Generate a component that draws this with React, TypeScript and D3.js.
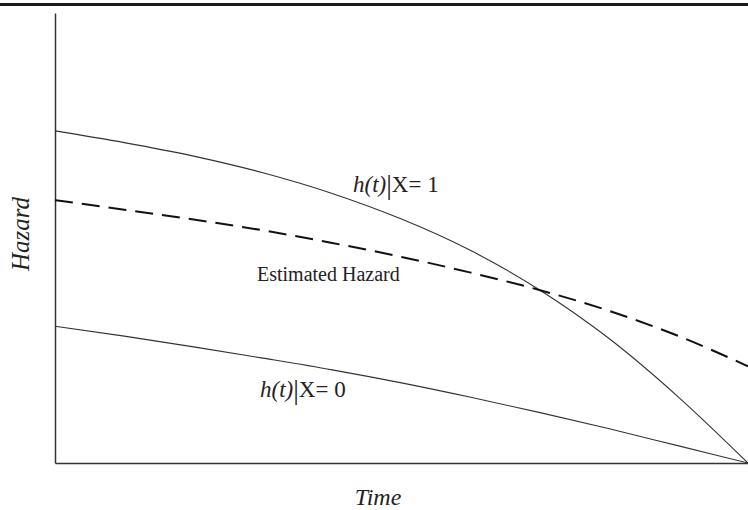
import * as d3 from 'd3'
import { useEffect, useRef } from 'react'

const times = [0, 1, 2, 3, 4, 5, 6, 7, 8, 9, 10]
const hazardX1 = [7.38, 7.12, 6.82, 6.45, 5.99, 5.42, 4.72, 3.84, 2.76, 1.46, 0]
const hazardX0 = [3.04, 2.82, 2.58, 2.33, 2.07, 1.78, 1.46, 1.12, 0.76, 0.38, 0]
const hazardEst = [5.84, 5.63, 5.41, 5.17, 4.89, 4.58, 4.23, 3.84, 3.38, 2.82, 2.15]

const width = 748
const height = 510
const margin = { top: 13, right: 0, bottom: 47, left: 55 }
const font = "'Liberation Serif', 'Times New Roman', serif"

const App = () => {
  const ref = useRef<SVGSVGElement>(null)

  useEffect(() => {
    const svg = d3.select(ref.current)
    svg.selectAll('*').remove()
    svg.attr('width', width).attr('height', height)

    const x = d3
      .scaleLinear()
      .domain([0, 10])
      .range([margin.left, width - margin.right])
    const y = d3
      .scaleLinear()
      .domain([0, 10])
      .range([height - margin.bottom, margin.top])

    // top rule
    svg
      .append('line')
      .attr('x1', 0)
      .attr('x2', width)
      .attr('y1', 4.5)
      .attr('y2', 4.5)
      .attr('stroke', '#1a1a1a')
      .attr('stroke-width', 3)

    // axes, no ticks
    svg
      .append('g')
      .attr('transform', `translate(0,${y(0)})`)
      .call(d3.axisBottom(x).ticks(0).tickSize(0).tickSizeOuter(0))
      .call((g) => g.select('.domain').attr('stroke', '#333').attr('stroke-width', 1.5))
    svg
      .append('g')
      .attr('transform', `translate(${x(0)},0)`)
      .call(d3.axisLeft(y).ticks(0).tickSize(0).tickSizeOuter(0))
      .call((g) => g.select('.domain').attr('stroke', '#333').attr('stroke-width', 1.5))

    const line = (vals: number[]) =>
      d3
        .line<number>()
        .x((_, i) => x(times[i]))
        .y((d) => y(d))
        .curve(d3.curveMonotoneX)(vals)

    svg
      .append('path')
      .attr('d', line(hazardX1))
      .attr('fill', 'none')
      .attr('stroke', '#333')
      .attr('stroke-width', 1.1)
    svg
      .append('path')
      .attr('d', line(hazardX0))
      .attr('fill', 'none')
      .attr('stroke', '#333')
      .attr('stroke-width', 1.1)
    svg
      .append('path')
      .attr('d', line(hazardEst))
      .attr('fill', 'none')
      .attr('stroke', '#111')
      .attr('stroke-width', 2)
      .attr('stroke-dasharray', '18,9')

    // curve labels
    const hLabel = (xp: number, yp: number, n: string) => {
      const t = svg
        .append('text')
        .attr('x', xp)
        .attr('y', yp)
        .attr('font-family', font)
        .attr('font-size', 23)
        .attr('fill', '#222')
      t.append('tspan').attr('font-style', 'italic').text('h(t)')
      t.append('tspan').attr('font-size', 28).attr('dy', 2).text('|')
      t.append('tspan').attr('dy', -2).text('X= ' + n)
    }
    hLabel(353, 192, '1')
    hLabel(260, 397, '0')

    svg
      .append('text')
      .attr('x', 257)
      .attr('y', 281)
      .attr('font-family', font)
      .attr('font-size', 20)
      .attr('fill', '#222')
      .text('Estimated Hazard')

    // axis titles
    svg
      .append('text')
      .attr('x', 378)
      .attr('y', 505)
      .attr('text-anchor', 'middle')
      .attr('font-family', font)
      .attr('font-style', 'italic')
      .attr('font-size', 24)
      .attr('fill', '#222')
      .text('Time')
    svg
      .append('text')
      .attr('transform', 'translate(29,234) rotate(-90)')
      .attr('text-anchor', 'middle')
      .attr('font-family', font)
      .attr('font-style', 'italic')
      .attr('font-size', 25)
      .attr('fill', '#222')
      .text('Hazard')
  }, [])

  return (
    <div>
      <svg ref={ref} style={{ position: 'absolute', left: 0, top: 0, background: '#fff' }}></svg>
    </div>
  )
}

export default App
